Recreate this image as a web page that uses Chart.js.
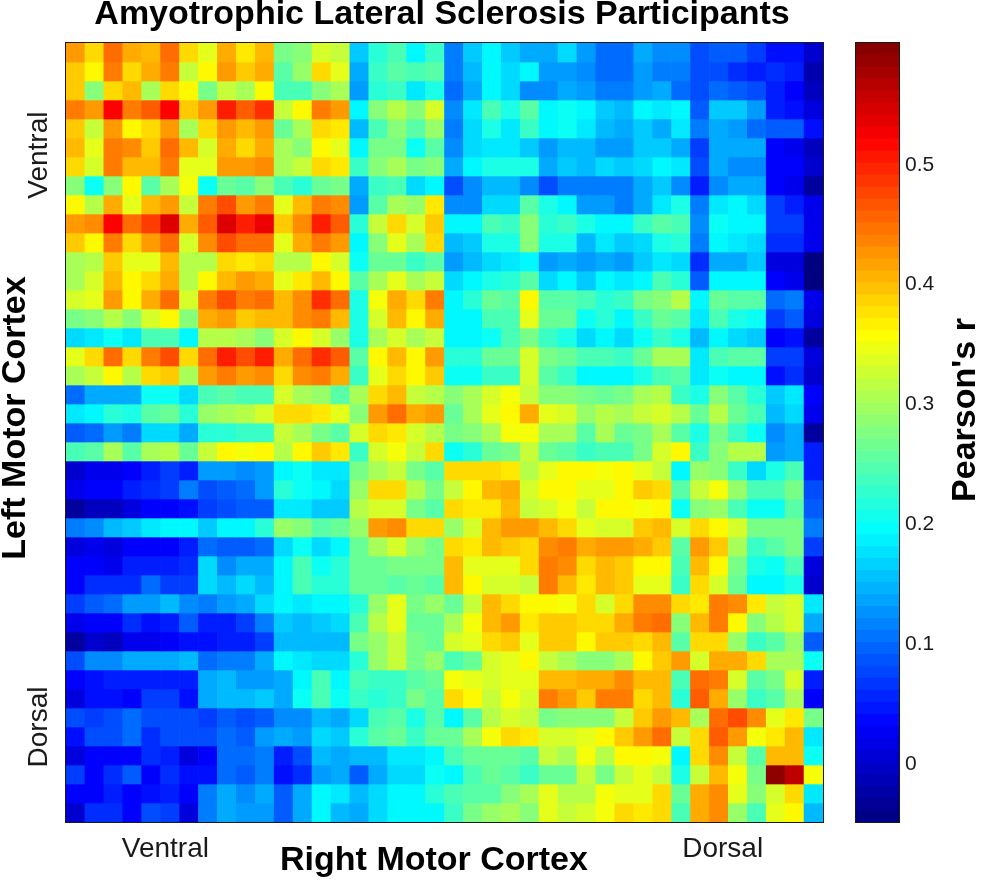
<!DOCTYPE html>
<html>
<head>
<meta charset="utf-8">
<title>Amyotrophic Lateral Sclerosis Participants</title>
<script src="https://cdn.jsdelivr.net/npm/chart.js@4/dist/chart.umd.min.js"></script>
<style>
  html, body { margin: 0; padding: 0; background: #fff; }
  canvas { position: absolute; left: 0; top: 0; }
</style>
</head>
<body>
<canvas id="myChart" width="884" height="880"></canvas>
<canvas id="colorBar" width="981" height="880"></canvas>
<script>
// Pearson's r x 100. One list per left cortex seed (top to bottom).
const pearsonRows = [
  [42,38,45,41,40,45,38,34,41,37,40,27,28,33,32, 16,22,24,19,23,11,16,19,16,14,14,17,13,10,10, 14,12,12,8,9,9,7,4,4,0],
  [39,36,44,38,41,44,32,36,42,39,41,25,29,38,34, 14,23,25,24,25,11,15,19,17,19,13,13,12,10,10, 13,11,11,8,8,6,5,6,5,-2],
  [39,28,38,40,30,38,36,27,32,30,36,24,24,28,30, 13,22,23,18,21,10,14,19,17,12,12,14,13,11,11, 13,14,10,8,10,9,8,5,3,-1],
  [44,42,52,44,46,52,39,42,50,46,49,32,36,44,42, 19,28,31,28,33,12,18,24,21,25,19,20,19,16,15, 19,18,19,9,16,16,13,5,4,1],
  [39,32,42,36,38,42,30,38,42,40,42,26,30,38,37, 15,24,28,25,29,11,17,21,18,23,19,20,18,15,14, 16,14,18,11,14,13,10,9,9,4],
  [40,34,44,43,39,45,40,33,41,38,41,30,28,36,34, 19,27,27,20,25,12,17,18,18,16,13,15,15,13,13, 16,16,14,7,14,14,14,3,2,-1],
  [38,33,44,40,40,44,34,34,42,42,43,30,32,38,37, 23,28,30,27,28,14,19,21,21,21,14,16,15,17,16, 17,19,18,8,14,12,12,3,3,0],
  [28,20,28,36,25,30,35,20,26,25,28,24,22,26,27, 14,23,24,17,19,8,12,15,15,12,8,11,11,11,11, 14,16,12,5,12,14,14,3,2,-3],
  [36,31,41,34,40,42,32,44,47,42,44,34,40,44,43, 13,25,30,29,37,12,12,17,17,25,21,19,13,13,11, 14,18,21,11,18,19,17,7,5,2],
  [42,43,52,45,48,54,41,46,54,50,53,39,43,50,46, 22,32,38,33,39,19,19,24,23,28,22,23,21,19,19, 23,25,24,12,20,19,19,7,7,2],
  [39,36,44,38,42,45,33,43,47,45,45,34,41,44,42, 19,28,34,30,38,15,16,21,21,28,21,21,15,18,16, 17,21,22,11,19,18,17,6,6,2],
  [30,31,39,34,34,40,31,31,38,37,38,31,31,36,33, 20,26,26,23,25,13,15,17,18,19,13,14,13,14,13, 16,18,17,6,14,14,16,1,1,-5],
  [30,33,40,36,38,41,31,36,40,42,41,34,37,40,36, 25,30,34,30,32,17,19,21,22,25,17,19,16,19,18, 19,24,22,9,19,19,19,3,2,-5],
  [33,34,42,36,41,45,33,44,47,44,45,40,43,49,45, 21,35,41,38,44,19,22,26,25,36,25,25,24,22,23, 27,28,31,19,26,25,25,10,11,2],
  [27,28,31,28,33,36,28,41,42,39,40,40,43,44,40, 21,33,40,36,41,19,19,24,24,34,26,26,20,22,19, 23,26,25,18,24,21,20,7,9,1],
  [17,18,20,18,24,24,19,31,31,30,28,33,36,33,29, 21,30,33,30,32,19,19,20,24,27,23,21,17,19,17, 20,23,21,15,19,17,16,3,4,-3],
  [34,38,45,38,44,47,38,45,50,47,50,41,45,49,46, 25,36,40,36,42,22,22,26,26,33,27,26,24,24,23, 26,30,30,18,24,25,25,7,7,1],
  [30,32,36,31,38,39,30,42,44,42,43,38,43,44,41, 23,34,38,36,39,20,20,23,23,33,25,23,19,19,19, 21,24,25,18,20,19,19,4,6,0],
  [10,14,14,14,20,20,17,24,25,24,24,33,30,29,25, 30,38,40,32,31,28,30,33,35,32,28,28,27,26,27, 30,31,23,21,28,25,22,16,18,3],
  [18,19,22,21,25,26,22,29,30,31,33,38,38,37,34, 28,42,45,41,42,26,30,34,36,41,34,33,29,31,30, 32,33,31,26,31,26,24,15,17,2],
  [9,10,13,11,17,17,14,22,22,23,23,32,30,27,25, 33,38,37,33,31,27,28,30,35,35,30,30,25,30,26, 27,30,25,21,27,23,20,12,14,-3],
  [24,25,30,25,30,31,26,32,36,35,36,31,36,39,37, 23,33,35,32,38,20,22,26,27,32,26,25,23,24,24, 27,33,36,23,28,31,31,13,14,5],
  [0,2,2,3,5,7,5,13,13,12,13,19,20,18,18, 27,30,32,27,25,38,38,38,37,31,34,36,36,35,36, 34,32,19,29,28,23,17,21,24,5],
  [2,3,3,5,6,7,11,8,9,10,13,22,20,19,17, 29,38,38,31,27,32,36,40,41,33,36,36,34,34,36, 39,38,25,32,35,29,24,24,27,8],
  [-3,-1,-1,1,3,3,4,7,8,9,9,18,18,16,16, 31,33,33,27,25,38,37,37,40,32,33,35,32,36,36, 35,36,20,28,29,24,20,20,25,9],
  [11,12,15,16,18,19,19,16,19,19,22,29,28,25,26, 29,42,43,38,38,29,33,40,42,42,40,38,34,33,33, 39,40,33,38,36,33,27,27,27,11],
  [1,2,1,3,3,3,5,10,9,9,10,17,20,17,19, 26,30,33,29,27,38,37,40,39,38,43,44,41,42,42, 41,39,25,42,39,30,23,25,27,7],
  [3,3,2,5,5,5,6,17,12,14,14,19,24,20,22, 26,26,27,27,27,40,34,34,34,38,44,43,38,40,39, 36,36,24,40,36,27,21,20,24,1],
  [3,6,6,6,10,7,7,17,15,17,15,19,24,22,22, 26,26,25,26,25,40,36,33,33,32,44,40,37,40,39, 34,34,23,38,33,26,19,19,21,0],
  [7,9,10,13,13,15,12,11,13,14,17,19,18,19,19, 22,29,34,27,29,26,32,40,38,36,36,35,38,33,38, 43,43,38,37,44,43,37,32,33,18],
  [2,3,3,6,4,5,9,5,5,7,11,16,15,16,17, 24,31,34,26,26,30,35,40,42,37,39,39,38,38,41, 44,45,28,40,44,36,28,31,33,14],
  [-3,0,-1,2,2,3,4,4,5,5,7,15,15,15,15, 27,29,32,27,26,33,34,38,39,34,39,39,36,39,39, 38,40,25,38,38,29,23,25,29,9],
  [8,12,12,14,14,14,15,10,11,11,14,19,18,17,17, 22,29,32,27,29,24,26,33,34,36,32,30,28,28,30, 36,39,42,33,41,41,38,30,30,20],
  [3,4,5,5,5,5,5,14,15,13,13,14,19,24,19, 24,23,23,25,26,35,34,33,34,34,40,40,41,41,43, 40,40,24,45,44,33,25,27,33,5],
  [1,4,4,3,7,7,4,14,15,15,16,14,20,24,20, 23,22,23,27,25,38,36,32,35,33,44,42,39,44,44, 38,40,22,46,41,29,23,25,30,3],
  [8,7,8,10,8,8,8,7,9,8,9,12,12,15,14, 17,24,25,21,25,19,25,31,33,32,27,28,28,28,32, 39,42,40,30,45,47,43,34,37,27],
  [4,8,8,10,6,8,8,8,10,9,13,14,13,17,16, 22,25,26,23,26,26,30,35,38,37,33,33,34,36,39, 42,45,32,38,46,42,35,37,40,18],
  [1,3,3,3,6,5,1,3,10,10,11,5,8,15,14, 15,15,18,18,19,24,26,26,26,25,32,30,35,31,36, 36,35,19,38,43,32,25,40,40,20],
  [7,3,6,9,3,6,4,4,10,9,11,4,6,13,14, 9,14,17,17,20,19,24,26,25,23,26,26,32,27,32, 34,32,21,32,40,35,27,59,56,35],
  [3,3,5,3,4,5,3,11,14,12,14,9,14,19,18, 15,17,19,19,22,24,25,25,28,30,34,31,31,35,34, 34,38,26,41,43,34,28,33,38,18],
  [0,6,6,3,8,7,1,11,14,13,13,9,14,19,15, 14,17,19,19,19,23,27,29,30,28,34,32,33,35,38, 37,38,24,41,43,29,24,34,36,15]
];
const columnLabels = [1,2,3,4,5,6,7,8,9,10,11,12,13,14,15,16,17,18,19,20,21,22,23,24,25,26,27,28,29,30,31,32,33,34,35,36,37,38,39,40];
const colorLevels = [-5,-4,-3,-2,-1,0,1,2,3,4,5,6,7,8,9,10,11,12,13,14,15,16,17,18,19,20,21,22,23,24,25,26,27,28,29,30,31,32,33,34,35,36,37,38,39,40,41,42,43,44,45,46,47,48,49,50,51,52,53,54,55,56,57,58,59];
const rowTicks = [{ value: 5.9, label: "Ventral" }, { value: 36, label: "Dorsal" }];
const columnTicks = [{ value: 5.25, label: "Ventral" }, { value: 34.7, label: "Dorsal" }];

const fontFamily = '"Liberation Sans", Arial, sans-serif';
const inkColor = "#1a1a1a";

// matlab jet, color axis runs from -0.05 to 0.60
function jet(v) {
  let t = (v + 5) / 65;
  let part = (c) => Math.round(255 * Math.max(0, Math.min(1, 1.5 - Math.abs(4 * t - c))));
  return `rgb(${part(3)},${part(2)},${part(1)})`;
}

// frame round the plot plus the axis titles that sit off centre
function frameAndText(labels) {
  return {
    id: "frameAndText",
    afterDraw(chart) {
      let ctx = chart.ctx;
      let a = chart.chartArea;
      ctx.save();
      ctx.strokeStyle = inkColor;
      ctx.lineWidth = 1;
      ctx.strokeRect(a.left - 0.5, a.top - 0.5, a.right - a.left + 1, a.bottom - a.top + 1);
      ctx.fillStyle = "#000";
      ctx.font = `bold 34px ${fontFamily}`;
      ctx.textAlign = "center";
      ctx.textBaseline = "middle";
      labels.forEach((l) => {
        ctx.save();
        ctx.translate(l.x, l.y);
        ctx.rotate(l.rot);
        ctx.fillText(l.text, 0, 0);
        ctx.restore();
      });
      ctx.restore();
    },
  };
}

let heatSets = pearsonRows.map((row, r) => ({
  data: row.map(() => [r, r + 1]),
  backgroundColor: row.map((v) => jet(v)),
  barPercentage: 1,
  categoryPercentage: 1,
  grouped: false,
  xAxisID: "x",
  yAxisID: "y",
}));

new Chart(document.getElementById("myChart"), {
  type: "bar",
  data: { labels: columnLabels, datasets: heatSets },
  plugins: [frameAndText([
    { text: "Left Motor Cortex", x: 16, y: 418, rot: -Math.PI / 2 },
    { text: "Right Motor Cortex", x: 434, y: 861, rot: 0 },
  ])],
  options: {
    responsive: false,
    animation: false,
    devicePixelRatio: 1,
    plugins: {
      legend: { display: false },
      tooltip: { enabled: false },
      title: {
        display: true,
        text: "Amyotrophic Lateral Sclerosis Participants",
        color: "#000",
        font: { family: fontFamily, size: 34, weight: "bold", lineHeight: 1.2 },
        padding: { top: -5.4, bottom: 7.6 },
      },
    },
    scales: {
      x: { display: false, grid: { display: false } },
      xLabels: {
        type: "linear",
        axis: "x",
        position: "bottom",
        min: 0,
        max: 40,
        offset: false,
        grid: { display: false, drawTicks: false },
        border: { display: false },
        afterBuildTicks: (s) => { s.ticks = columnTicks.map((t) => ({ value: t.value, label: t.label })); },
        afterFit: (s) => { s.height = 58; },
        ticks: {
          autoSkip: false,
          maxRotation: 0,
          padding: 10,
          color: inkColor,
          font: { family: fontFamily, size: 28 },
          callback: (v) => columnTicks.find((t) => t.value === v).label,
        },
      },
      y: {
        min: 0,
        max: 41,
        reverse: true,
        grid: { display: false, drawTicks: false },
        border: { display: false },
        afterBuildTicks: (s) => { s.ticks = rowTicks.map((t) => ({ value: t.value, label: t.label })); },
        afterFit: (s) => { s.width = 66; },
        ticks: {
          autoSkip: false,
          minRotation: 90,
          maxRotation: 90,
          crossAlign: "center",
          padding: -17,
          color: inkColor,
          font: { family: fontFamily, size: 28 },
          callback: (v) => rowTicks.find((t) => t.value === v).label,
        },
      },
      // empty axis on the right, keeps the title centred over the full canvas
      yGap: {
        type: "linear",
        axis: "y",
        position: "right",
        display: true,
        grid: { display: false, drawTicks: false },
        border: { display: false },
        ticks: { display: false },
        afterFit: (s) => { s.width = 61; },
      },
    },
  },
});

let barSets = colorLevels.map((v) => ({
  data: [[v, v + 1]],
  backgroundColor: jet(v + 0.5),
  barPercentage: 1,
  categoryPercentage: 1,
  grouped: false,
}));

new Chart(document.getElementById("colorBar"), {
  type: "bar",
  data: { labels: ["r"], datasets: barSets },
  plugins: [frameAndText([
    { text: "Pearson's r", x: 966, y: 410, rot: -Math.PI / 2 },
  ])],
  options: {
    responsive: false,
    animation: false,
    devicePixelRatio: 1,
    layout: { padding: { left: 856, right: 0, top: 43, bottom: 58 } },
    plugins: { legend: { display: false }, tooltip: { enabled: false } },
    scales: {
      x: { display: false, grid: { display: false } },
      y: {
        position: "right",
        min: -5,
        max: 60,
        grid: { display: false, drawTicks: false },
        border: { display: false },
        afterFit: (s) => { s.width = 82; },
        ticks: {
          stepSize: 10,
          padding: 6,
          labelOffset: 2,
          color: inkColor,
          font: { family: fontFamily, size: 21 },
          callback: (v) => (v < 0 || v > 50 ? "" : String(v / 100)),
        },
      },
    },
  },
});
</script>
</body>
</html>
